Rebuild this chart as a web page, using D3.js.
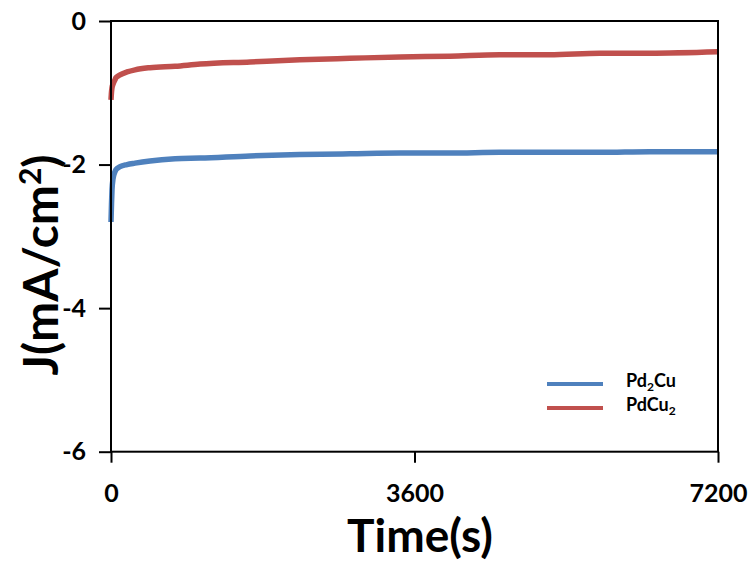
<!DOCTYPE html>
<html>
<head>
<meta charset="utf-8">
<script src="https://cdn.jsdelivr.net/npm/d3@7"></script>
<style>
  body { margin: 0; background: #fff; }
  text { font-family: Lato, "Open Sans", sans-serif; font-weight: bold; fill: #000; }
</style>
</head>
<body>
<div class="canvas"></div>
<script>
// values
const timePts = [0, 6, 12, 24, 47, 59, 107, 190, 285, 463, 760, 1056, 1650, 2240, 2835, 3430, 4020, 4610, 5200, 5800, 6390, 7200];
const pd2cu = [-2.80, -2.55, -2.35, -2.20, -2.10, -2.07, -2.03, -2.00, -1.98, -1.95, -1.92, -1.91, -1.88, -1.86, -1.85, -1.84, -1.84, -1.83, -1.83, -1.83, -1.82, -1.82];
const pdcu2 = [-1.10, -0.99, -0.93, -0.88, -0.82, -0.79, -0.75, -0.71, -0.68, -0.65, -0.63, -0.60, -0.57, -0.54, -0.52, -0.50, -0.49, -0.47, -0.47, -0.45, -0.45, -0.43];
const xTicks = [0, 3600, 7200];
const yTicks = [0, -2, -4, -6];

const dims = { width: 756, height: 565 };
const box = { left: 111, right: 718, top: 21, bottom: 451.7 };

const svg = d3
  .select(".canvas")
  .append("svg")
  .attr("width", dims.width)
  .attr("height", dims.height);

const x = d3.scaleLinear().domain([0, 7200]).range([box.left, box.right]);
const y = d3.scaleLinear().domain([-6, 0]).range([box.bottom, box.top]);

// series
const series = [
  { name: "Pd2Cu", main: "Pd", sub: "2", tail: "Cu", values: pd2cu, colour: "#4f81bd" },
  { name: "PdCu2", main: "PdCu", sub: "2", tail: "", values: pdcu2, colour: "#c0504d" }
];

const line = d3
  .line()
  .x((d) => x(d[0]))
  .y((d) => y(d[1]))
  .curve(d3.curveMonotoneX);

svg
  .selectAll("path.series")
  .data(series)
  .enter()
  .append("path")
  .attr("class", "series")
  .attr("fill", "none")
  .attr("stroke", (d) => d.colour)
  .attr("stroke-width", 5.5)
  .attr("stroke-linejoin", "round")
  .attr("d", (d) => line(timePts.map((t, i) => [t, d.values[i]])));

// frame
svg
  .append("rect")
  .attr("x", box.left)
  .attr("y", box.top)
  .attr("width", box.right - box.left)
  .attr("height", box.bottom - box.top)
  .attr("fill", "none")
  .attr("stroke", "#000")
  .attr("stroke-width", 2);

// axes
const xAxis = d3.axisBottom(x).tickValues(xTicks).tickSize(11).tickSizeOuter(0).tickPadding(22).tickFormat((d) => String(d));
const yAxis = d3.axisLeft(y).tickValues(yTicks).tickSize(12).tickSizeOuter(0).tickPadding(13).tickFormat((d) => String(d));

const gx = svg.append("g").attr("transform", `translate(0, ${box.bottom})`).call(xAxis);
const gy = svg.append("g").attr("transform", `translate(${box.left}, 0)`).call(yAxis);

[gx, gy].forEach((g) => {
  g.select(".domain").remove();
  g.selectAll(".tick line").attr("stroke", "#000").attr("stroke-width", 2);
  g.selectAll(".tick text").attr("font-family", "Lato").attr("font-weight", "bold").attr("fill", "#000");
});
gx.selectAll(".tick text").attr("font-size", 25);
gy.selectAll(".tick text").attr("font-size", 25);

// axis titles
svg
  .append("text")
  .attr("x", 420)
  .attr("y", 552)
  .attr("text-anchor", "middle")
  .attr("font-size", 46)
  .text("Time(s)");

const yTitle = svg
  .append("text")
  .attr("transform", "translate(58, 265) rotate(-90)")
  .attr("text-anchor", "middle")
  .attr("font-size", 48);
yTitle.append("tspan").text("J(mA/cm");
yTitle.append("tspan").attr("font-size", 30).attr("dy", -17).text("2");
yTitle.append("tspan").attr("dy", 17).text(")");

// legend
const legendGroup = svg.append("g");
const legendRows = legendGroup
  .selectAll("g")
  .data(series)
  .enter()
  .append("g")
  .attr("transform", (d, i) => `translate(0, ${384 + i * 24})`);

legendRows
  .append("line")
  .attr("x1", 547)
  .attr("x2", 603)
  .attr("stroke", (d) => d.colour)
  .attr("stroke-width", 4);

const legendText = legendRows
  .append("text")
  .attr("x", 626)
  .attr("y", 3)
  .attr("font-size", 18);
legendText.append("tspan").text((d) => d.main);
legendText.append("tspan").attr("font-size", 12).attr("dy", 4).text((d) => d.sub);
legendText.append("tspan").attr("dy", -4).text((d) => d.tail);
</script>
</body>
</html>
